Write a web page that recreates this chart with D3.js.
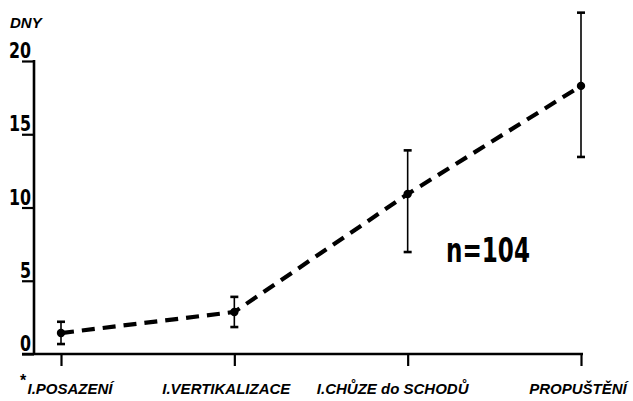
<!DOCTYPE html>
<html>
<head>
<meta charset="utf-8">
<script src="https://cdn.jsdelivr.net/npm/d3@7"></script>
<style>
  html, body { margin: 0; padding: 0; background: #fff; }
  svg { display: block; }
</style>
</head>
<body>
<svg id="chart" width="633" height="401"></svg>
<script>
// ---- data ----
const categories = ["I.POSAZENÍ", "I.VERTIKALIZACE", "I.CHŮZE do SCHODŮ", "PROPUŠTĚNÍ"];
const meanDays   = [1.43, 2.87, 10.92, 18.3];
const upperDays  = [2.2, 3.9, 13.9, 23.3];
const lowerDays  = [0.68, 1.84, 6.96, 13.45];
const yTicks     = [0, 5, 10, 15, 20];
const yTickLabels = ["0", "5", "10", "15", "20"];
const yTitle = "DNY";
const note = "n=104";

// ---- layout ----
const labelNudge = [9, -8, -15, -3];
const svg = d3.select("#chart");
const x = d3.scalePoint().domain(categories).range([61, 581]);
const y = d3.scaleLinear().domain([0, 20]).range([354, 61]);
const axisX = 34;
const black = "#000";
const narrow = "'DejaVu Sans Condensed','DejaVu Sans',sans-serif";

// y axis
const yAxis = d3.axisLeft(y).tickValues(yTicks).tickSize(12).tickFormat("");
const gy = svg.append("g").attr("transform", `translate(${axisX},0)`).call(yAxis);
gy.select(".domain").remove();
gy.selectAll(".tick line").attr("stroke", black).attr("stroke-width", 2.2);
svg.append("line").attr("x1", axisX).attr("x2", axisX).attr("y1", y(20) - 1).attr("y2", y(0))
  .attr("stroke", black).attr("stroke-width", 2.6);

// y tick labels
svg.selectAll("text.ytl").data(yTicks).enter().append("text")
  .attr("class", "ytl")
  .attr("x", 31).attr("y", d => y(d) - 3)
  .attr("text-anchor", "end")
  .attr("font-family", narrow).attr("font-weight", "bold").attr("font-size", 21)
  .attr("textLength", (d, i) => yTickLabels[i].length * 11)
  .attr("lengthAdjust", "spacingAndGlyphs")
  .text((d, i) => yTickLabels[i]);

// y title
svg.append("text").attr("x", 10).attr("y", 28)
  .attr("font-family", "'Liberation Sans',sans-serif").attr("font-weight", "bold")
  .attr("font-style", "italic").attr("font-size", 15).text(yTitle);

// x axis
svg.append("line").attr("x1", 22).attr("x2", x(categories[3]) + 2).attr("y1", y(0)).attr("y2", y(0))
  .attr("stroke", black).attr("stroke-width", 2.6);
const xAxis = d3.axisBottom(x).tickSize(12).tickFormat("");
const gx = svg.append("g").attr("transform", `translate(0,${y(0)})`).call(xAxis);
gx.select(".domain").remove();
gx.selectAll(".tick line").attr("stroke", black).attr("stroke-width", 2.2);

// x labels
svg.selectAll("text.xl").data(categories).enter().append("text")
  .attr("class", "xl")
  .attr("x", (d, i) => x(d) + labelNudge[i]).attr("y", 394)
  .attr("text-anchor", "middle")
  .attr("font-family", "'Liberation Sans',sans-serif").attr("font-weight", "bold")
  .attr("font-style", "italic").attr("font-size", 15)
  .text(d => d);
svg.append("text").attr("x", 20).attr("y", 386)
  .attr("font-family", "'Liberation Sans',sans-serif").attr("font-weight", "bold")
  .attr("font-size", 16).text("*");

// dashed line
const line = d3.line().x((d, i) => x(categories[i])).y(d => y(d));
svg.append("path").datum(meanDays).attr("d", line)
  .attr("fill", "none").attr("stroke", black).attr("stroke-width", 4.2)
  .attr("stroke-dasharray", "13,8");

// error bars
const eb = svg.selectAll("g.eb").data(categories).enter().append("g").attr("class", "eb");
eb.append("line").attr("x1", d => x(d)).attr("x2", d => x(d))
  .attr("y1", (d, i) => y(upperDays[i])).attr("y2", (d, i) => y(lowerDays[i]))
  .attr("stroke", black).attr("stroke-width", 1.6);
eb.append("line").attr("x1", d => x(d) - 4).attr("x2", d => x(d) + 4)
  .attr("y1", (d, i) => y(upperDays[i])).attr("y2", (d, i) => y(upperDays[i]))
  .attr("stroke", black).attr("stroke-width", 2.6);
eb.append("line").attr("x1", d => x(d) - 4).attr("x2", d => x(d) + 4)
  .attr("y1", (d, i) => y(lowerDays[i])).attr("y2", (d, i) => y(lowerDays[i]))
  .attr("stroke", black).attr("stroke-width", 2.6);
eb.append("circle").attr("cx", d => x(d)).attr("cy", (d, i) => y(meanDays[i]))
  .attr("r", 4.2).attr("fill", black);

// note
svg.append("text").attr("x", 446).attr("y", 262)
  .attr("font-family", narrow).attr("font-weight", "bold").attr("font-size", 33)
  .attr("textLength", 84).attr("lengthAdjust", "spacingAndGlyphs")
  .text(note);
</script>
</body>
</html>
